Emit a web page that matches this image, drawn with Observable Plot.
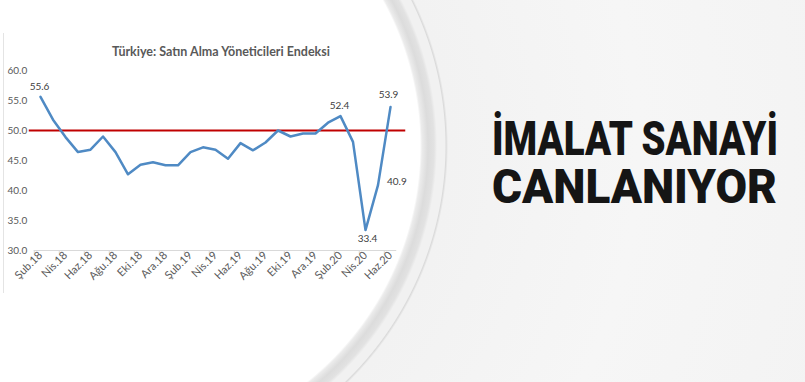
<!DOCTYPE html>
<html><head><meta charset="utf-8">
<script src="https://cdn.jsdelivr.net/npm/d3@7"></script>
<script src="https://cdn.jsdelivr.net/npm/@observablehq/plot@0.6"></script>
<style>
html,body{margin:0;padding:0;width:805px;height:382px;overflow:hidden;}
body{position:relative;background: radial-gradient(circle 900px at 118px 146px, #ffffff 0px, #ffffff 302px, #ececec 304px, #dcdcdc 310px, #e2e2e2 316px, #f1f1f1 319px, #f1f1f1 327px, #dadada 328px, #f2f2f2 330px, #f6f6f6 520px, #f1f1f1 900px);}
#chart{position:absolute;left:0;top:0;}
#title{position:absolute;left:0;width:442px;top:44px;text-align:center;font:700 12.5px Lato, sans-serif;color:#595959;}
#edge{position:absolute;left:3px;top:33px;width:1px;height:260px;background:#e4e4e4;}
.hl{position:absolute;left:492px;display:inline-block;white-space:nowrap;font:900 49px Roboto, sans-serif;line-height:47px;height:47px;color:#151515;transform-origin:0 0;}
#hl1{top:115px;}
#hl2{top:163px;}
</style>
</head><body>
<div id="edge"></div>
<div id="title">Türkiye: Satın Alma Yöneticileri Endeksi</div>
<div id="chart"></div>
<div class="hl" id="hl1">İMALAT SANAYİ</div>
<div class="hl" id="hl2">CANLANIYOR</div>
<script>
const months = ["Şub.18","Mar.18","Nis.18","May.18","Haz.18","Tem.18","Ağu.18","Eyl.18","Eki.18","Kas.18","Ara.18","Oca.19","Şub.19","Mar.19","Nis.19","May.19","Haz.19","Tem.19","Ağu.19","Eyl.19","Eki.19","Kas.19","Ara.19","Oca.20","Şub.20","Mar.20","Nis.20","May.20","Haz.20"];
const pmi = [55.6,51.8,48.9,46.4,46.8,49.0,46.4,42.7,44.3,44.7,44.2,44.2,46.4,47.2,46.8,45.3,47.9,46.7,48.0,50.0,49.0,49.5,49.5,51.3,52.4,48.1,33.4,40.9,53.9];
const threshold = [50];
const yTicks = [30,35,40,45,50,55,60];
const labelsAbove = ["Şub.18","Şub.20"];
const labelsTop = ["Haz.20"];
const labelsBelow = ["Nis.20"];
const labelsRight = ["May.20"];

const data = months.map((m, i) => ({i, m, v: pmi[i]}));
const tickIdx = d3.range(0, months.length, 2);
const boundaryIdx = d3.range(-0.5, months.length - 1, 2);
const fmt = d => d.v.toFixed(1);

const plot = Plot.plot({
  width: 420, height: 300,
  marginLeft: 33.75, marginRight: 23.75, marginTop: 70, marginBottom: 50,
  style: {background: "transparent", fontFamily: "Lato, sans-serif", fontSize: "10px", color: "#595959"},
  x: {type: "linear", domain: [-0.5, months.length - 0.5], axis: null},
  y: {domain: [30, 60], axis: null},
  marks: [
    Plot.axisY(yTicks, {tickSize: 0, tickPadding: 7, tickFormat: d => d.toFixed(1), label: null, fill: "#595959"}),
    Plot.ruleY([30], {stroke: "#d9d9d9", strokeWidth: 1}),
    Plot.axisX(boundaryIdx, {tickSize: 5, tickFormat: () => "", label: null, stroke: "#d9d9d9"}),
    Plot.axisX(tickIdx, {tickSize: 0, tickPadding: 3, tickRotate: -45, tickFormat: i => months[i], label: null, fill: "#595959", fontSize: 11}),
    Plot.ruleY(threshold, {stroke: "#c00000", strokeWidth: 2, insetLeft: -5, insetRight: -9}),
    Plot.line(data, {x: "i", y: "v", stroke: "#4f8ac4", strokeWidth: 2.5}),
    Plot.text(data.filter(d => labelsAbove.includes(d.m)), {x: "i", y: "v", text: fmt, dy: -10, dx: -1, fill: "#404040"}),
    Plot.text(data.filter(d => labelsTop.includes(d.m)), {x: "i", y: "v", text: fmt, dy: -12, dx: -2, fill: "#404040"}),
    Plot.text(data.filter(d => labelsBelow.includes(d.m)), {x: "i", y: "v", text: fmt, dy: 9, dx: 2, fill: "#404040"}),
    Plot.text(data.filter(d => labelsRight.includes(d.m)), {x: "i", y: "v", text: fmt, dy: -3, dx: 9, textAnchor: "start", fill: "#404040"})
  ]
});
document.getElementById("chart").appendChild(plot);

// fit the headline lines to the reference width
[["hl1", 286], ["hl2", 285]].forEach(([id, w]) => {
  const el = document.getElementById(id);
  const natural = el.getBoundingClientRect().width;
  el.style.transform = `scaleX(${w / natural})`;
});
</script>
</body></html>
